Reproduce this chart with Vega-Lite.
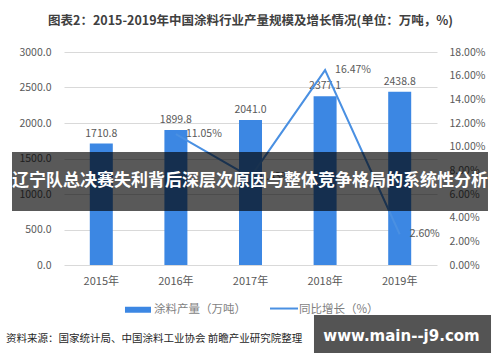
{
  "$schema": "https://vega.github.io/schema/vega-lite/v6.json",
  "width": 373,
  "height": 213,
  "autosize": {"type": "none"},
  "padding": {"left": 64, "top": 52, "right": 63, "bottom": 97},
  "background": "white",
  "title": {
    "text": "图表2：2015-2019年中国涂料行业产量规模及增长情况(单位：万吨，%)",
    "fontSize": 12.5,
    "fontWeight": "bold",
    "color": "#404040",
    "anchor": "middle",
    "offset": 20,
    "font": "Noto Sans CJK SC"
  },
  "datasets": {
    "main": [
      {"year": "2015年", "output": 1710.8},
      {"year": "2016年", "output": 1899.8, "growth": 0.1105},
      {"year": "2017年", "output": 2041.0, "growth": 0.0743},
      {"year": "2018年", "output": 2377.1, "growth": 0.1647},
      {"year": "2019年", "output": 2438.8, "growth": 0.026}
    ],
    "legendBar": [{"label": "涂料产量（万吨）"}],
    "legendLine": [{"label": "同比增长（%）"}],
    "banner": [{"text": "辽宁队总决赛失利背后深层次原因与整体竞争格局的系统性分析"}],
    "source": [{"text": "资料来源：国家统计局、中国涂料工业协会 前瞻产业研究院整理"}],
    "wm": [{"text": "www.main--j9.com"}]
  },
  "layer": [
    {
      "data": {"name": "main"},
      "encoding": {
        "x": {
          "field": "year",
          "type": "nominal",
          "sort": null,
          "axis": {
            "title": null,
            "labelAngle": 0,
            "ticks": false,
            "domain": false,
            "labelPadding": 10,
            "labelFontSize": 11,
            "labelColor": "#595959"
          }
        }
      },
      "layer": [
        {
          "layer": [
            {
              "mark": {"type": "bar", "size": 23, "color": "#3c87e3"},
              "encoding": {
                "y": {
                  "field": "output",
                  "type": "quantitative",
                  "scale": {"domain": [0, 3000]},
                  "axis": {
                    "title": null,
                    "values": [0, 500, 1000, 1500, 2000, 2500, 3000],
                    "tickCount": 12,
                    "format": ".1f",
                    "labelOverlap": false,
                    "domain": false,
                    "ticks": false,
                    "labelPadding": 13,
                    "grid": true,
                    "gridColor": "#d9d9d9",
                    "labelColor": "#595959",
                    "labelFontSize": 10.5
                  }
                }
              }
            },
            {
              "mark": {"type": "text", "baseline": "bottom", "dy": -5, "fontSize": 10.5, "color": "#595959"},
              "encoding": {
                "y": {"field": "output", "type": "quantitative"},
                "text": {"field": "output", "type": "quantitative", "format": ".1f"}
              }
            }
          ]
        },
        {
          "layer": [
            {
              "mark": {"type": "line", "strokeWidth": 2, "color": "#4a90e2"},
              "encoding": {
                "y": {
                  "field": "growth",
                  "type": "quantitative",
                  "scale": {"domain": [0, 0.18]},
                  "axis": {
                    "orient": "right",
                    "title": null,
                    "values": [0, 0.02, 0.04, 0.06, 0.08, 0.1, 0.12, 0.14, 0.16, 0.18],
                    "tickCount": 12,
                    "format": ".2%",
                    "labelOverlap": false,
                    "domain": false,
                    "ticks": false,
                    "grid": false,
                    "labelPadding": 12,
                    "labelColor": "#595959",
                    "labelFontSize": 10.5
                  }
                }
              }
            },
            {
              "mark": {"type": "text", "align": "left", "baseline": "middle", "dx": 10, "fontSize": 10.5, "color": "#595959"},
              "encoding": {
                "y": {"field": "growth", "type": "quantitative"},
                "text": {"field": "growth", "type": "quantitative", "format": ".2%"}
              }
            }
          ]
        }
      ],
      "resolve": {"scale": {"y": "independent"}}
    },
    {
      "layer": [
        {
          "data": {"name": "legendBar"},
          "mark": {"type": "rect", "color": "#3c87e3"},
          "encoding": {
            "x": {"datum": 0.1635, "type": "quantitative", "scale": {"domain": [0, 1]}, "axis": null},
            "x2": {"datum": 0.2332},
            "y": {"datum": -587, "type": "quantitative", "scale": {"domain": [0, 3000]}, "axis": null},
            "y2": {"datum": -672}
          }
        },
        {
          "data": {"name": "legendBar"},
          "mark": {"type": "text", "color": "#7f7f7f", "fontSize": 11.5, "align": "left", "baseline": "middle"},
          "encoding": {
            "x": {"datum": 0.2413, "type": "quantitative", "axis": null},
            "y": {"datum": -627, "type": "quantitative", "axis": null},
            "text": {"field": "label"}
          }
        },
        {
          "data": {"name": "legendLine"},
          "mark": {"type": "rule", "color": "#4a90e2", "strokeWidth": 2},
          "encoding": {
            "x": {"datum": 0.5523, "type": "quantitative", "axis": null},
            "x2": {"datum": 0.6273},
            "y": {"datum": -613, "type": "quantitative", "axis": null}
          }
        },
        {
          "data": {"name": "legendLine"},
          "mark": {"type": "text", "color": "#7f7f7f", "fontSize": 11.5, "align": "left", "baseline": "middle"},
          "encoding": {
            "x": {"datum": 0.63, "type": "quantitative", "axis": null},
            "y": {"datum": -627, "type": "quantitative", "axis": null},
            "text": {"field": "label"}
          }
        },
        {
          "data": {"name": "banner"},
          "mark": {"type": "rect", "color": "black", "opacity": 0.65},
          "encoding": {
            "x": {"datum": -0.1394, "type": "quantitative", "axis": null},
            "x2": {"datum": 1.1367},
            "y": {"datum": 1592, "type": "quantitative", "axis": null},
            "y2": {"datum": 761}
          }
        },
        {
          "data": {"name": "banner"},
          "mark": {"type": "text", "color": "white", "fontSize": 17, "fontWeight": "bold", "font": "Noto Sans CJK SC", "baseline": "middle"},
          "encoding": {
            "x": {"datum": 0.4987, "type": "quantitative", "axis": null},
            "y": {"datum": 1183, "type": "quantitative", "axis": null},
            "text": {"field": "text"}
          }
        },
        {
          "data": {"name": "source"},
          "mark": {"type": "text", "color": "#262626", "fontSize": 10.5, "font": "Noto Sans CJK SC", "align": "left", "baseline": "middle"},
          "encoding": {
            "x": {"datum": -0.1555, "type": "quantitative", "axis": null},
            "y": {"datum": -1042, "type": "quantitative", "axis": null},
            "text": {"field": "text"}
          }
        },
        {
          "data": {"name": "wm"},
          "mark": {"type": "rect", "color": "black", "opacity": 0.67},
          "encoding": {
            "x": {"datum": 0.6702, "type": "quantitative", "axis": null},
            "x2": {"datum": 1.1448},
            "y": {"datum": -704, "type": "quantitative", "axis": null},
            "y2": {"datum": -1239}
          }
        },
        {
          "data": {"name": "wm"},
          "mark": {"type": "text", "color": "white", "fontSize": 15, "fontWeight": "bold", "font": "DejaVu Sans", "baseline": "middle"},
          "encoding": {
            "x": {"datum": 0.9048, "type": "quantitative", "axis": null},
            "y": {"datum": -1000, "type": "quantitative", "axis": null},
            "text": {"field": "text"}
          }
        }
      ]
    }
  ],
  "resolve": {"scale": {"x": "independent", "y": "independent"}},
  "config": {
    "font": "Noto Sans CJK SC",
    "view": {"stroke": null},
    "axis": {"labelOverlap": false}
  }
}
